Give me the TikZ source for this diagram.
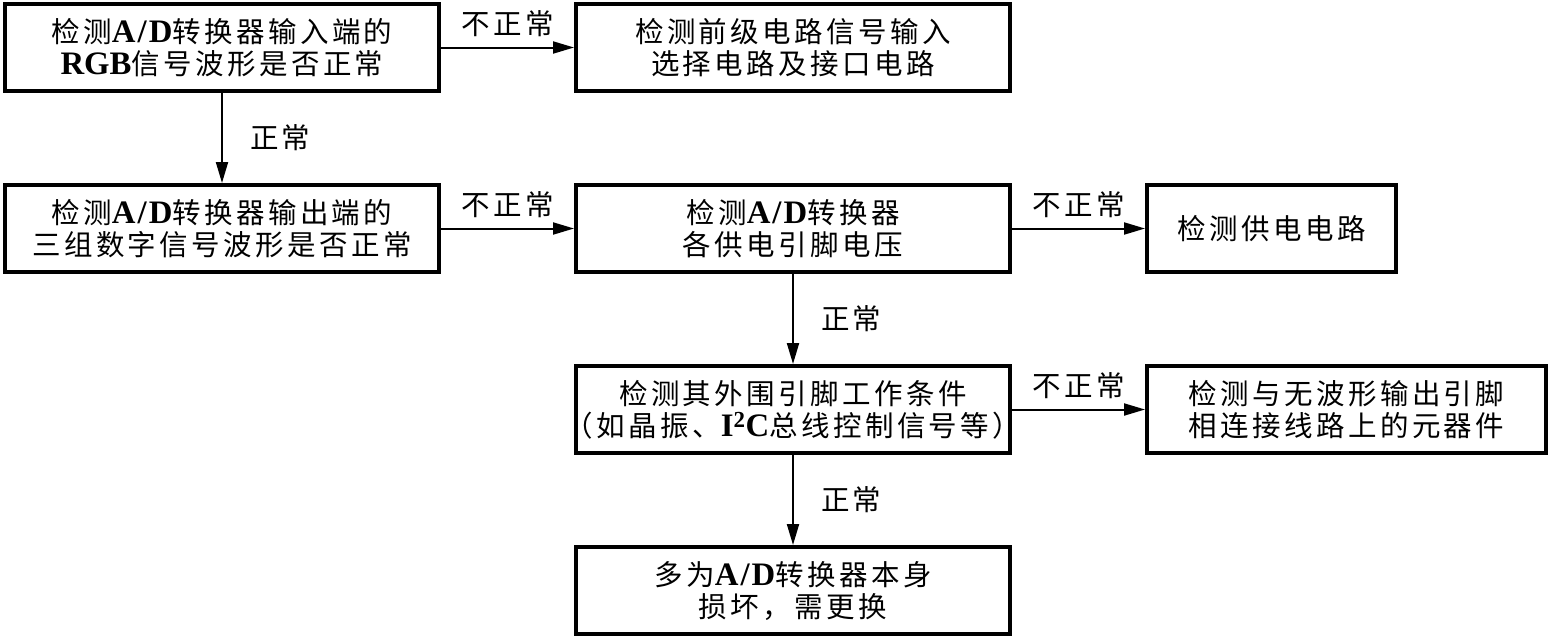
\documentclass[tikz,border=0pt]{standalone}
\usepackage{fontspec}
\setmainfont[LetterSpace=12]{Noto Sans CJK SC}
\newfontfamily\latf[Scale=1.15]{Liberation Serif}
\newcommand{\ad}[1]{{\latf\bfseries #1}}
\usetikzlibrary{arrows.meta, positioning}
\tikzset{
  box/.style={rectangle,draw,line width=4pt,align=center,inner sep=3pt,minimum width=434pt,minimum height=87pt,font=\fontsize{28.5}{32}\selectfont},
  endbox/.style={box,minimum width=399pt},
  line/.style={line width=2pt,-{Triangle[length=21pt,width=12pt]}},
  tag/.style={font=\fontsize{28.5}{32}\selectfont,inner sep=2pt}
}

\begin{document}
\begin{tikzpicture}[x=1pt,y=1pt,node distance=90pt and 133pt]
\useasboundingbox (0,0) rectangle (1552,-638);
\node[box] (rgbin) at (222,-47.5) {检测\ad{A\kern2pt/\kern2pt D}转换器输入端的\\\ad{RGB}信号波形是否正常};
\node[box, right=of rgbin] (front) {检测前级电路信号输入\\选择电路及接口电路};
\node[box, below=of rgbin] (digout) {检测\ad{A\kern2pt/\kern2pt D}转换器输出端的\\三组数字信号波形是否正常};
\node[box, right=of digout] (pwrpin) {检测\ad{A\kern2pt/\kern2pt D}转换器\\各供电引脚电压};
\node[endbox, minimum width=249pt, right=of pwrpin] (supply) {检测供电电路};
\node[box, below=of pwrpin] (periph) {检测其外围引脚工作条件\\\makebox[420pt]{（如晶振、\ad{I\textsuperscript{2}C}总线控制信号等）}};
\node[endbox, right=of periph] (parts) {检测与无波形输出引脚\\相连接线路上的元器件};
\node[box, below=of periph] (replace) {多为\ad{A\kern2pt/\kern2pt D}转换器本身\\损坏，需更换};
\draw[line] (rgbin) -- node[tag, above=8pt] {不正常} (front);
\draw[line] (rgbin) -- node[tag, right=25pt] {正常} (digout);
\draw[line] (digout) -- node[tag, above=8pt] {不正常} (pwrpin);
\draw[line] (pwrpin) -- node[tag, above=8pt] {不正常} (supply);
\draw[line] (pwrpin) -- node[tag, right=25pt] {正常} (periph);
\draw[line] (periph) -- node[tag, above=8pt] {不正常} (parts);
\draw[line] (periph) -- node[tag, right=25pt] {正常} (replace);
\end{tikzpicture}
\end{document}
